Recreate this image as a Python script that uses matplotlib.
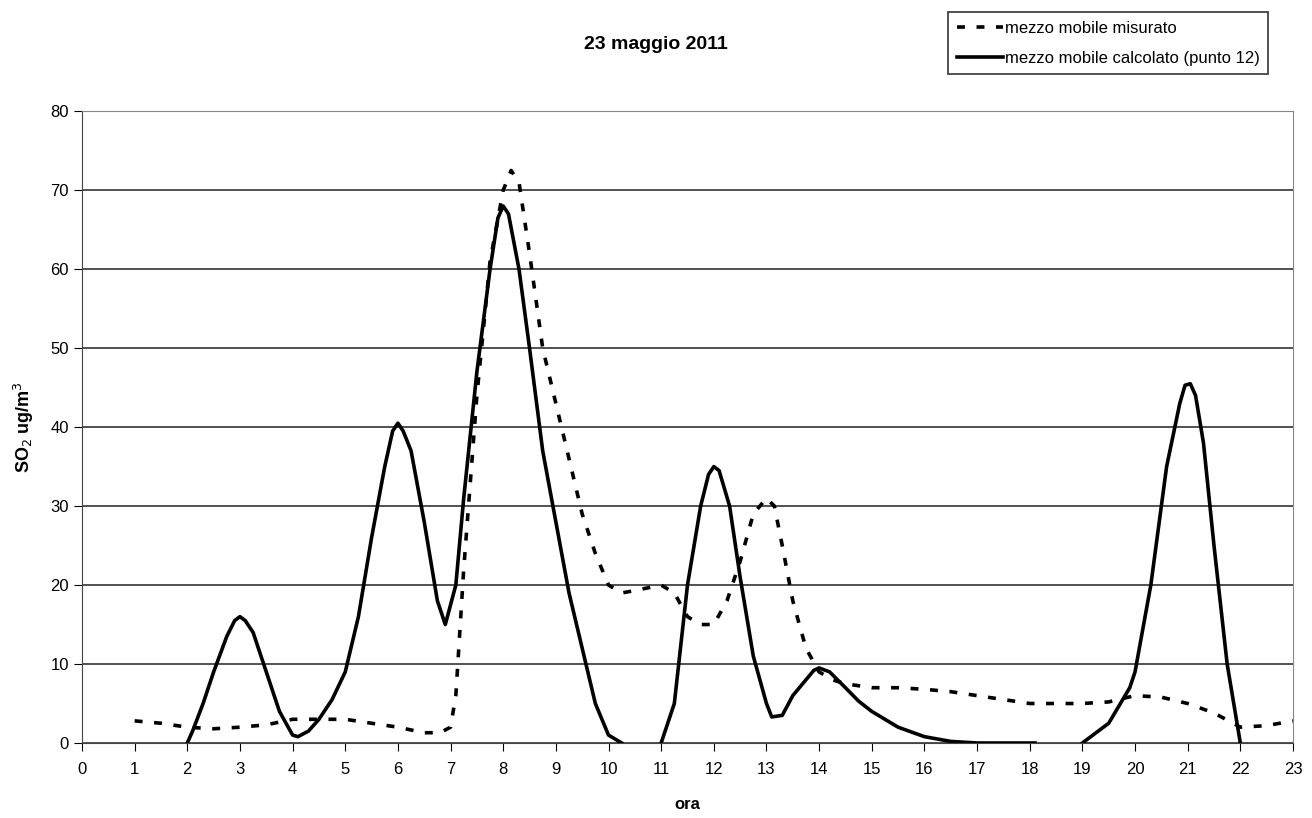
import numpy as np
import matplotlib.pyplot as plt

plt.rcParams['font.family'] = ['Liberation Sans', 'DejaVu Sans']

# mezzo mobile misurato (dashed)
ore_mis = [1, 1.5, 2, 2.5, 3, 3.5, 4, 4.5, 5, 5.5, 6, 6.5, 6.8, 7, 7.1, 7.25, 7.5, 7.75,
           8, 8.15, 8.3, 8.5, 8.75, 9, 9.25, 9.5, 9.75, 10, 10.25, 10.5, 11, 11.25, 11.5,
           11.75, 12, 12.25, 12.5, 12.75, 13, 13.15, 13.3, 13.5, 13.75, 14, 14.25, 14.5,
           15, 15.5, 16, 16.5, 17, 17.5, 18, 18.5, 19, 19.5, 20, 20.5, 21, 21.5, 22, 22.5, 23]
so2_mis = [2.8, 2.5, 2, 1.8, 2, 2.3, 3, 3, 3, 2.5, 2, 1.3, 1.3, 2, 6, 22, 44, 61,
           70, 72.5, 71, 62, 50, 43, 36, 29, 24, 20, 19, 19.3, 20, 19, 16,
           15, 15, 18, 23, 29, 31, 30, 25, 18, 12, 9, 8, 7.5,
           7, 7, 6.8, 6.5, 6, 5.5, 5, 5, 5, 5.2, 6, 5.8, 5, 3.8, 2, 2.2, 2.8]

# mezzo mobile calcolato (punto 12) (solid), NaN = dato mancante
ore_calc = [2, 2.1, 2.3, 2.5, 2.75, 2.9, 3, 3.1, 3.25, 3.5, 3.75, 4, 4.1, 4.3, 4.5, 4.75, 5,
            5.25, 5.5, 5.75, 5.9, 6, 6.1, 6.25, 6.5, 6.75, 6.9, 7.1, 7.25, 7.5, 7.75, 7.9,
            8, 8.1, 8.3, 8.5, 8.75, 9, 9.25, 9.5, 9.75, 10, 10.25, 10.5, 11, 11.25, 11.5,
            11.75, 11.9, 12, 12.1, 12.3, 12.5, 12.75, 13, 13.1, 13.3, 13.5, 13.75, 13.9,
            14, 14.2, 14.5, 14.75, 15, 15.5, 16, 16.5, 17, 18.1, 18.5, 19, 19.5, 19.9, 20,
            20.3, 20.6, 20.85, 20.95, 21.05, 21.15, 21.3, 21.5, 21.75, 22]
so2_calc = [0, 1.5, 5, 9, 13.5, 15.5, 16, 15.5, 14, 9, 4, 1, 0.8, 1.5, 3, 5.5, 9,
            16, 26, 35, 39.5, 40.5, 39.5, 37, 28, 18, 15, 20, 31, 47, 60, 66.5,
            68, 67, 60, 50, 37, 28, 19, 12, 5, 1, 0, np.nan, 0, 5, 20,
            30, 34, 35, 34.5, 30, 21, 11, 5, 3.3, 3.5, 6, 8, 9.2,
            9.5, 9, 7, 5.3, 4, 2, 0.8, 0.2, 0, 0, np.nan, 0, 2.5, 7, 9,
            20, 35, 43, 45.3, 45.5, 44, 38, 25, 10, 0]

fig = plt.figure(figsize=(13.12, 8.18), dpi=100)
ax = fig.add_axes([0.0625, 0.0917, 0.923, 0.7723])

ax.plot(ore_mis, so2_mis, color='black', lw=2.6, linestyle=(0, (2.2, 3.2)),
        label='mezzo mobile misurato')
ax.plot(ore_calc, so2_calc, color='black', lw=2.6, solid_joinstyle='round',
        label='mezzo mobile calcolato (punto 12)')

ax.set_xlim(0, 23)
ax.set_ylim(0, 80)
ax.set_xticks(range(0, 24))
ax.set_yticks(range(0, 81, 10))
ax.tick_params(labelsize=12, length=6, direction='out', color='black')
ax.tick_params(axis='x', pad=8)
ax.grid(axis='y', color='#333333', lw=1.2)
ax.set_axisbelow(True)
for s in ['top', 'right']:
    ax.spines[s].set_color('#888888')
ax.spines['left'].set_color('#444444')
ax.spines['bottom'].set_color('#444444')

ax.set_xlabel('ora', fontsize=12, fontweight='bold', labelpad=14)
ax.set_ylabel('SO$_2$ ug/m$^3$', fontsize=13, fontweight='bold', labelpad=10)
fig.text(0.5, 0.945, '23 maggio 2011', ha='center', va='center',
         fontsize=14, fontweight='bold')

leg = fig.legend(loc='upper right', bbox_to_anchor=(0.973, 0.995), fontsize=12,
                 frameon=True, fancybox=False, edgecolor='black', handlelength=2.8,
                 handletextpad=0.1, borderpad=0.5, labelspacing=0.9)
leg.get_frame().set_linewidth(1.2)

fig.savefig('out.png', dpi=100)
